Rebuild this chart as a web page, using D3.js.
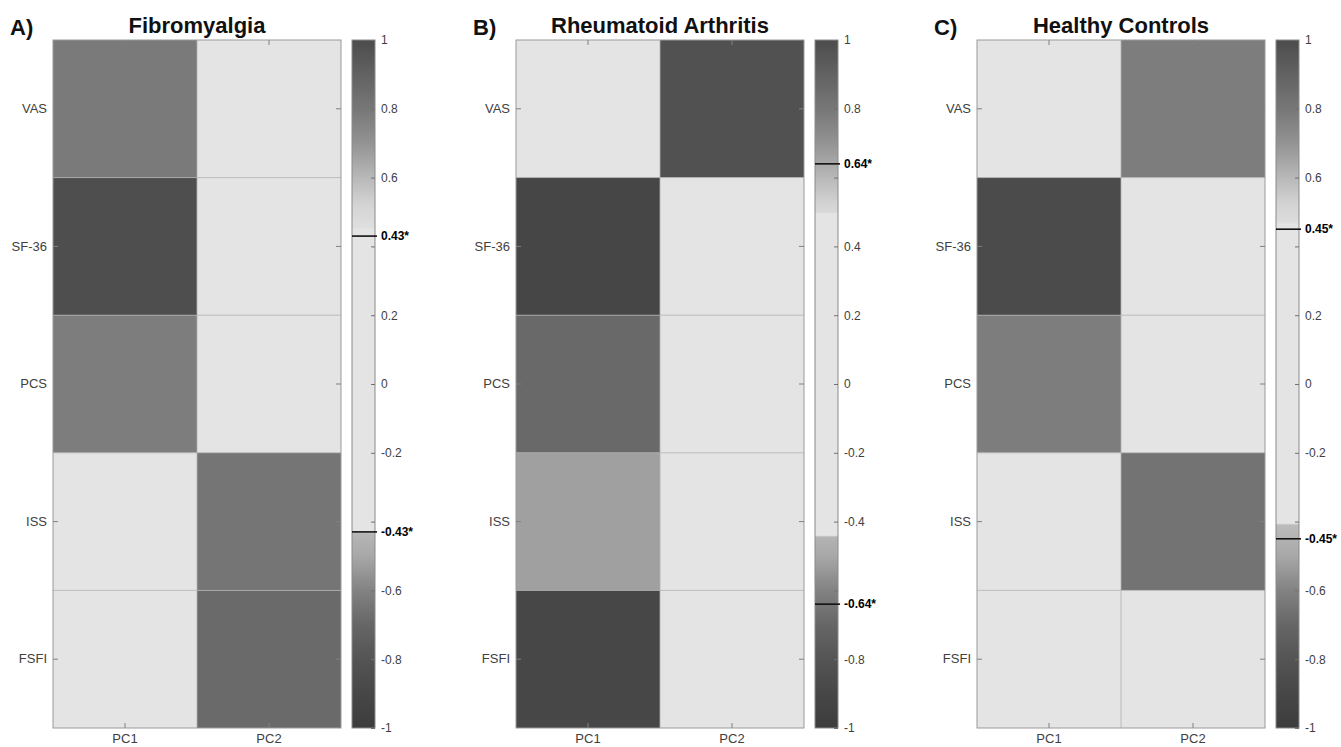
<!DOCTYPE html>
<html>
<head>
<meta charset="utf-8">
<script src="https://cdn.jsdelivr.net/npm/d3@7"></script>
<style>
  body { margin: 0; background: #fff; }
  svg { font-family: "Liberation Sans", Arial, Helvetica, sans-serif; display: block; }
</style>
</head>
<body>
<svg id="chart" width="1341" height="747"></svg>
<script>
// data
const measures = ['VAS', 'SF-36', 'PCS', 'ISS', 'FSFI'];
const components = ['PC1', 'PC2'];
const panelLetters = ['A)', 'B)', 'C)'];
const panelTitles = ['Fibromyalgia', 'Rheumatoid Arthritis', 'Healthy Controls'];
const thresholds = [0.43, 0.64, 0.45];

// loadings per panel, one value per measure
const fibroPC1 = [0.79, -0.85, 0.78, 0.12, -0.05];
const fibroPC2 = [0.15, 0.08, -0.10, 0.81, 0.86];
const rheumPC1 = [0.22, -0.91, -0.69, -0.52, -0.90];
const rheumPC2 = [-0.82, 0.10, 0.05, 0.12, -0.15];
const healthyPC1 = [0.20, -0.87, 0.78, 0.10, 0.05];
const healthyPC2 = [0.78, 0.10, -0.05, 0.82, -0.15];

const colorbarTicks = [1, 0.8, 0.6, 0.4, 0.2, 0, -0.2, -0.4, -0.6, -0.8, -1];

// light (non-significant) band of each colour bar
const lightLow = [-0.43, -0.44, -0.41];
const lightHigh = [0.45, 0.5, 0.47];

const panels = [
  {pc1: fibroPC1, pc2: fibroPC2},
  {pc1: rheumPC1, pc2: rheumPC2},
  {pc1: healthyPC1, pc2: healthyPC2}
];

const svg = d3.select('#chart');
const defs = svg.append('defs');
const mapTop = 40, mapHeight = 688, mapWidth = 288, cbGap = 11, cbWidth = 23;
const panelLeft = [53, 516, 977];
const tickColor = '#404040';

const posGrey = d3.scaleLinear()
  .domain([0.45, 0.52, 0.6, 0.7, 0.8, 0.9, 1])
  .range(['#e0e0e0', '#d4d4d4', '#b8b8b8', '#939393', '#777777', '#626262', '#4c4c4c'])
  .clamp(true);
const negGrey = d3.scaleLinear()
  .domain([-0.4, -0.5, -0.6, -0.7, -0.8, -0.9, -1])
  .range(['#bdbdbd', '#a8a8a8', '#828282', '#666666', '#545454', '#474747', '#3c3c3c'])
  .clamp(true);

function colorFor(v, i) {
  if (v > lightLow[i] && v < lightHigh[i]) return '#e4e4e4';
  return v > 0 ? posGrey(v) : negGrey(v);
}

panels.forEach((p, i) => {
  const x0 = panelLeft[i];
  const g = svg.append('g').attr('transform', `translate(${x0},${mapTop})`);

  const xScale = d3.scaleBand().domain(components).range([0, mapWidth]);
  const yScale = d3.scaleBand().domain(measures).range([0, mapHeight]);

  const cells = [];
  measures.forEach((m, r) => {
    cells.push({m: m, c: 'PC1', v: p.pc1[r]});
    cells.push({m: m, c: 'PC2', v: p.pc2[r]});
  });

  g.selectAll('rect.cell')
    .data(cells)
    .enter().append('rect')
    .attr('class', 'cell')
    .attr('x', d => xScale(d.c))
    .attr('y', d => yScale(d.m))
    .attr('width', xScale.bandwidth())
    .attr('height', yScale.bandwidth())
    .attr('fill', d => colorFor(d.v, i));

  // cell borders
  g.selectAll('line.hgrid')
    .data(measures.slice(1))
    .enter().append('line')
    .attr('x1', 0).attr('x2', mapWidth)
    .attr('y1', d => yScale(d)).attr('y2', d => yScale(d))
    .attr('stroke', '#b0b0b0').attr('stroke-width', 0.8);
  g.append('line')
    .attr('x1', xScale('PC2')).attr('x2', xScale('PC2'))
    .attr('y1', 0).attr('y2', mapHeight)
    .attr('stroke', '#b0b0b0').attr('stroke-width', 0.8);

  g.append('rect')
    .attr('width', mapWidth).attr('height', mapHeight)
    .attr('fill', 'none').attr('stroke', '#9a9a9a').attr('stroke-width', 1);

  // axes
  g.append('g')
    .call(d3.axisLeft(yScale).tickSizeInner(-5).tickSizeOuter(0).tickPadding(6));
  g.append('g').attr('transform', `translate(${mapWidth},0)`)
    .call(d3.axisRight(yScale).tickSizeInner(-5).tickSizeOuter(0).tickFormat(''));
  g.append('g')
    .call(d3.axisTop(xScale).tickSizeInner(-5).tickSizeOuter(0).tickFormat(''));
  g.append('g').attr('transform', `translate(0,${mapHeight})`)
    .call(d3.axisBottom(xScale).tickSizeInner(-5).tickSizeOuter(0).tickPadding(6));

  g.selectAll('.domain').remove();
  g.selectAll('.tick line').attr('stroke', '#808080');
  g.selectAll('.tick text').attr('fill', tickColor).style('font-size', '13px');

  // title
  svg.append('text')
    .attr('x', x0 + mapWidth / 2).attr('y', 33)
    .attr('text-anchor', 'middle')
    .style('font-size', '22px').style('font-weight', 'bold')
    .attr('fill', '#111')
    .text(panelTitles[i]);
  svg.append('text')
    .attr('x', x0 - 43).attr('y', 35)
    .style('font-size', '22px').style('font-weight', 'bold')
    .attr('fill', '#111')
    .text(panelLetters[i]);

  // colour bar, as a vertical gradient built from the colour function
  const cbScale = d3.scaleLinear().domain([-1, 1]).range([mapHeight, 0]);
  const step = 0.005;
  const grad = defs.append('linearGradient')
    .attr('id', `cbGrad${i}`)
    .attr('x1', 0).attr('y1', 1).attr('x2', 0).attr('y2', 0);
  d3.range(-1, 1 + step / 2, step).forEach(v => {
    grad.append('stop')
      .attr('offset', (v + 1) / 2)
      .attr('stop-color', colorFor(v, i));
  });

  const cb = svg.append('g').attr('transform', `translate(${x0 + mapWidth + cbGap},${mapTop})`);
  cb.append('rect')
    .attr('width', cbWidth).attr('height', mapHeight)
    .attr('fill', `url(#cbGrad${i})`)
    .attr('stroke', '#8a8a8a').attr('stroke-width', 1);

  const thr = thresholds[i];
  const cbAxis = cb.append('g').attr('transform', `translate(${cbWidth},0)`)
    .call(d3.axisRight(cbScale).tickValues(colorbarTicks).tickFormat(d => String(d))
      .tickSizeInner(-4).tickSizeOuter(0).tickPadding(6));
  cbAxis.select('.domain').remove();
  cbAxis.selectAll('.tick line').attr('stroke', '#707070');
  cbAxis.selectAll('.tick text')
    .attr('fill', tickColor).style('font-size', '12px')
    .filter(d => Math.abs(Math.abs(d) - thr) < 0.06).remove();

  [thr, -thr].forEach(t => {
    cb.append('line')
      .attr('x1', 0).attr('x2', cbWidth + 2)
      .attr('y1', cbScale(t)).attr('y2', cbScale(t))
      .attr('stroke', '#111').attr('stroke-width', 1.6);
    cb.append('text')
      .attr('x', cbWidth + 6).attr('y', cbScale(t))
      .attr('dy', '0.32em')
      .style('font-size', '12px').style('font-weight', 'bold')
      .attr('fill', '#000')
      .text(`${t.toFixed(2)}*`);
  });
});
</script>
</body>
</html>
